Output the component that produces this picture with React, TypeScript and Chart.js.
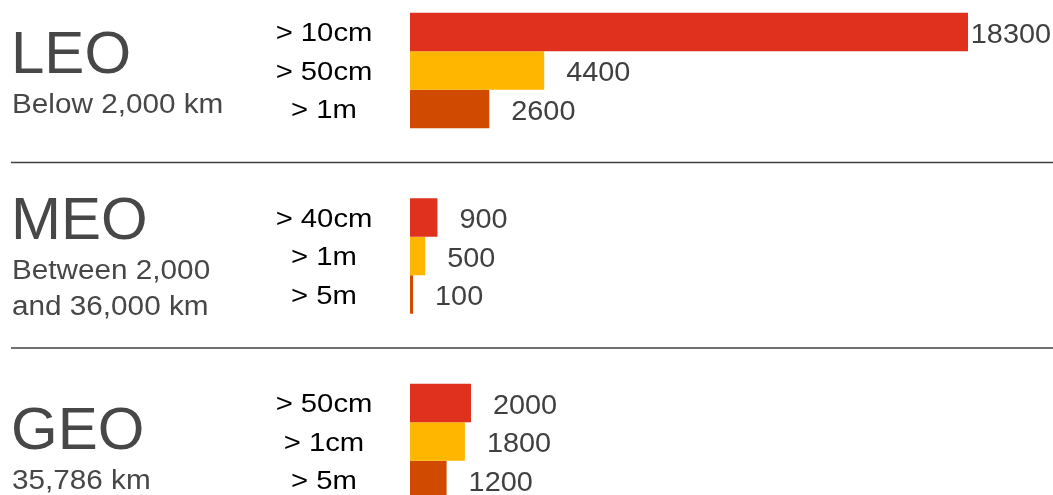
import React, { useEffect, useRef } from "react";
import { Chart, registerables } from "chart.js";

Chart.register(...registerables);

const regions = ["LEO", "MEO", "GEO"];
const regionSubtitles = [["Below 2,000 km"], ["Between 2,000", "and 36,000 km"], ["35,786 km"]];
const sizeLabels = [
  ["> 10cm", "> 50cm", "> 1m"],
  ["> 40cm", "> 1m", "> 5m"],
  ["> 50cm", "> 1cm", "> 5m"],
];
const firstSize = [18300, 900, 2000];
const secondSize = [4400, 500, 1800];
const thirdSize = [2600, 100, 1200];
const barColors = ["#E0301E", "#FFB600", "#D04A02"];

const FONT = '"Liberation Sans", Arial, sans-serif';

function drawText(ctx: CanvasRenderingContext2D, t: string, x: number, y: number, size: number, sx: number, color: string, align: CanvasTextAlign, baseline: CanvasTextBaseline) {
  ctx.save();
  ctx.font = `${size}px ${FONT}`;
  ctx.fillStyle = color;
  ctx.textAlign = align;
  ctx.textBaseline = baseline;
  ctx.translate(x, y);
  ctx.scale(sx, 1);
  ctx.fillText(t, 0, 0);
  ctx.restore();
}

const decorPlugin = {
  id: "decor",
  afterDatasetsDraw(chart: any) {
    const ctx: CanvasRenderingContext2D = chart.ctx;
    const yScale = chart.scales.y;
    const W = chart.width;
    const centers = regions.map((_, i) => yScale.getPixelForValue(i));
    ctx.save();
    ctx.strokeStyle = "#404040";
    ctx.lineWidth = 1.3;
    for (let i = 0; i < centers.length - 1; i++) {
      const y = (centers[i] + centers[i + 1]) / 2 - 0.75;
      ctx.beginPath();
      ctx.moveTo(11, y);
      ctx.lineTo(W, y);
      ctx.stroke();
    }
    ctx.restore();
    regions.forEach((r, i) => {
      const py = centers[i];
      const subs = regionSubtitles[i];
      const block = 44 + subs.length * 40;
      const top = py - block / 2;
      const base = top + 44 + (i === 2 ? 5 : i === 1 ? 1 : 0);
      drawText(ctx, r, 11, base, 60, 1, "#474747", "left", "alphabetic");
      subs.forEach((s, k) => {
        drawText(ctx, s, 12, base + 40 * (k + 1) - (k === 1 ? 4 : 0), 27, 1.1, "#474747", "left", "alphabetic");
      });
    });
    chart.data.datasets.forEach((ds: any, di: number) => {
      const meta = chart.getDatasetMeta(di);
      meta.data.forEach((bar: any, j: number) => {
        const v = ds.data[j];
        const txt = String(v);
        ctx.save();
        ctx.font = `28px ${FONT}`;
        const w = ctx.measureText(txt).width * 1.03;
        ctx.restore();
        let x = bar.x + 22;
        if (x + w > W - 2) x = W - 2 - w;
        drawText(ctx, txt, x, bar.y + 3, 28, 1.03, "#404040", "left", "middle");
        drawText(ctx, sizeLabels[j][di], 324, bar.y + 2.5, 25, 1.17, "#000000", "center", "middle");
      });
    });
  },
};

export default function App() {
  const ref = useRef<HTMLCanvasElement>(null);
  useEffect(() => {
    document.body.style.margin = "0";
    const chart = new Chart(ref.current!, {
      type: "bar",
      data: {
        labels: regions,
        datasets: [firstSize, secondSize, thirdSize].map((d, i) => ({
          label: `size ${i + 1}`,
          data: d,
          backgroundColor: barColors[i],
          borderWidth: 0,
          clip: false as any,
          categoryPercentage: 0.6226,
          barPercentage: 1,
        })),
      },
      options: {
        indexAxis: "y",
        animation: false,
        responsive: false,
        layout: { padding: { left: 410, right: 0, top: 70.5, bottom: 53.5 } },
        scales: {
          x: { display: false, min: 0, max: 21087 },
          y: { display: false, offset: false, grid: { offset: false } },
        },
        plugins: { legend: { display: false }, tooltip: { enabled: false } },
      },
      plugins: [decorPlugin],
    });
    return () => chart.destroy();
  }, []);
  return (
    <div style={{ width: 1053, height: 495, overflow: "hidden" }}>
      <canvas ref={ref} width={1053} height={495} />
    </div>
  );
}
